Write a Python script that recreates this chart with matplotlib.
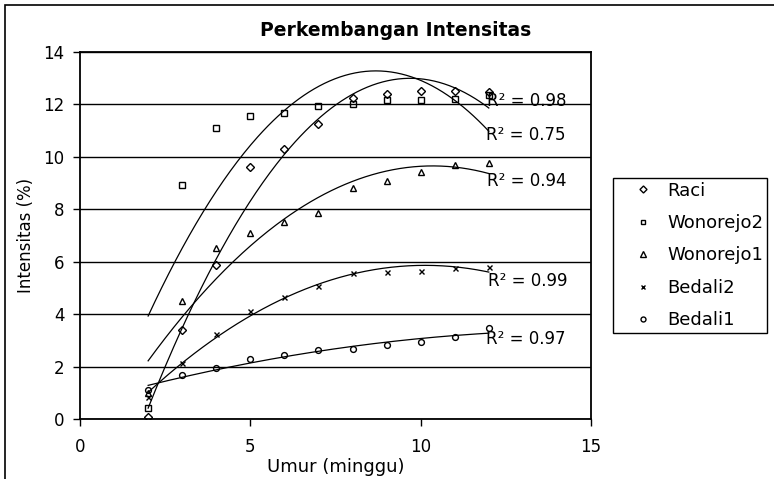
import numpy as np
import matplotlib
matplotlib.use("Agg")
import matplotlib.pyplot as plt
from matplotlib.lines import Line2D
from matplotlib.patches import Rectangle

# ---- data ----
weeks = [2, 3, 4, 5, 6, 7, 8, 9, 10, 11, 12]
raci = [0.06, 3.39, 5.89, 9.60, 10.29, 11.25, 12.25, 12.41, 12.50, 12.51, 12.47]
wonorejo2 = [0.43, 8.92, 11.10, 11.56, 11.66, 11.93, 12.03, 12.16, 12.16, 12.22, 12.35]
wonorejo1 = [1.00, 4.51, 6.53, 7.10, 7.52, 7.84, 8.82, 9.07, 9.43, 9.70, 9.78]
bedali2 = [0.85, 2.15, 3.23, 4.12, 4.66, 5.09, 5.58, 5.61, 5.65, 5.77, 5.81]
bedali1 = [1.10, 1.68, 1.93, 2.29, 2.44, 2.63, 2.67, 2.82, 2.92, 3.14, 3.46]
series_names = ["Raci", "Wonorejo2", "Wonorejo1", "Bedali2", "Bedali1"]
r2_texts = ["R\u00b2 = 0.98", "R\u00b2 = 0.75", "R\u00b2 = 0.94", "R\u00b2 = 0.99", "R\u00b2 = 0.97"]
x_ticks = [0, 5, 10, 15]
y_ticks = [0, 2, 4, 6, 8, 10, 12, 14]

series_values = [raci, wonorejo2, wonorejo1, bedali2, bedali1]
markers = ["D", "s", "^", "x", "o"]
marker_sizes = [4.2, 4.0, 5.0, 3.6, 4.2]
# label anchor positions (data coords)
label_pos = [(11.94, 12.13), (11.92, 10.82), (11.94, 9.07), (11.97, 5.26), (11.92, 3.04)]

plt.rcParams["font.family"] = ["DejaVu Sans"]

W, H = 774, 479
fig = plt.figure(figsize=(W / 100, H / 100), dpi=100)
ax = fig.add_axes([80 / W, 1 - 419 / H, (591 - 80) / W, (419 - 52) / H])

xs = np.array(weeks, dtype=float)
xfit = np.linspace(xs.min(), xs.max(), 200)
for name, vals, mk, ms in zip(series_names, series_values, markers, marker_sizes):
    ax.plot(xs, vals, linestyle="none", marker=mk, markersize=ms,
            markerfacecolor="none", markeredgecolor="black", markeredgewidth=1.0,
            zorder=3)
    coef = np.polyfit(xs, np.array(vals), 2)
    ax.plot(xfit, np.polyval(coef, xfit), color="black", linewidth=0.9, zorder=2)

for txt, (lx, ly) in zip(r2_texts, label_pos):
    ax.text(lx, ly, txt, fontsize=12, ha="left", va="center", zorder=4)

ax.set_xlim(0, 15)
ax.set_ylim(0, 14)
ax.set_xticks(x_ticks)
ax.set_yticks(y_ticks)
ax.yaxis.grid(True, color="black", linewidth=1.0)
ax.set_axisbelow(True)
for s in ax.spines.values():
    s.set_linewidth(1.3)
    s.set_color("black")
ax.tick_params(axis="both", direction="out", length=5, width=1.0, labelsize=12)
ax.tick_params(axis="y", pad=6)
ax.tick_params(axis="x", pad=9)

ax.set_xlabel("Umur (minggu)", fontsize=13, labelpad=1)
ax.set_ylabel("Intensitas (%)", fontsize=12, labelpad=6)
fig.text(396 / W, 1 - 31 / H, "Perkembangan Intensitas", fontsize=13.5,
         fontweight="bold", ha="center", va="center")

handles = [Line2D([], [], linestyle="none", marker=mk, markersize=ms * 0.85,
                  markerfacecolor="none", markeredgecolor="black", markeredgewidth=1.0)
           for mk, ms in zip(markers, marker_sizes)]
leg = fig.legend(handles, series_names, loc="upper left",
                 bbox_to_anchor=(613 / W, 1 - 178 / H), fontsize=13,
                 frameon=True, fancybox=False, edgecolor="black", framealpha=1,
                 labelspacing=0.8, handlelength=2.9, handletextpad=-0.1,
                 borderpad=0.2, borderaxespad=0)
leg.get_frame().set_linewidth(1.0)

# outer chart border (left and top visible)
fig.patches.append(Rectangle((5 / W, -0.1), 2, 1.1 - 5 / H, transform=fig.transFigure,
                             fill=False, edgecolor="black", linewidth=1.2))

fig.savefig("out.png", dpi=100)
